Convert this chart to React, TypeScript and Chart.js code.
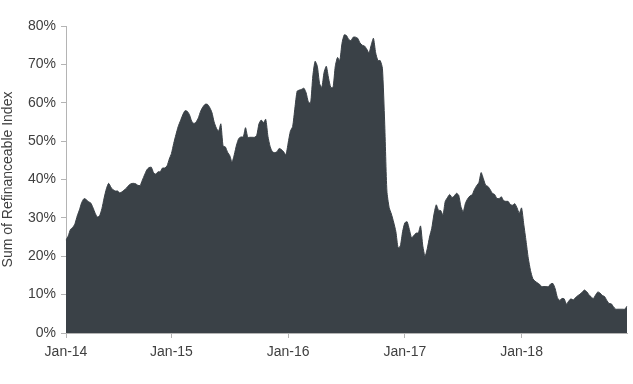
import { useEffect, useRef } from "react";
import { Chart, registerables } from "chart.js";

Chart.register(...registerables);

const yearLabels = ["Jan-14", "Jan-15", "Jan-16", "Jan-17", "Jan-18"];

const values2014 = [24.2, 25.3, 27, 27.5, 28.5, 30.5, 32.1, 34, 35, 34.8, 34.2, 33.9, 32.7, 31.2, 30.2, 30.6, 32.4, 35.2, 37.6, 39, 38, 37.3, 37, 37, 36.5, 36.8, 37.3, 37.8, 38.5, 38.9, 39, 38.9, 38.5, 38.4, 39.8, 41.2, 42.5, 43.1, 43.2, 41.8, 41.4, 42, 42, 43, 43, 43.5, 45.3];
const values2015 = [46.8, 49.4, 51.7, 53.8, 55.3, 56.8, 57.9, 57.8, 56.9, 55.2, 54.6, 55, 56.1, 57.8, 58.9, 59.6, 59.6, 58.8, 57.5, 55, 53.4, 52.6, 54.5, 48.7, 48.5, 47.1, 46.2, 44.5, 46.5, 49, 50.7, 51.1, 51.1, 53.5, 51, 51, 51, 51, 51.5, 54.5, 55.5, 54.8, 55.7, 51.2, 48.5, 47.2, 47, 47.2, 48.1, 47.8, 47.2, 46.4];
const values2016 = [49.5, 52.6, 53.8, 58.6, 63, 63.3, 63.5, 63.8, 62.6, 60.2, 59.9, 67, 70.8, 69.5, 65, 64, 67.9, 69.5, 66.4, 64, 64, 69.5, 71.8, 71, 75.5, 77.7, 77.5, 76.5, 76.2, 77.1, 77.1, 76.8, 75.6, 75, 74.8, 74, 73, 75, 76.8, 73, 71, 71, 69, 55, 37, 32.7, 31, 28.9, 26.4, 22.2, 22.7, 26.4];
const values2017 = [28.7, 29, 27, 24.8, 25.4, 26, 26.1, 27.9, 22.7, 20, 22, 25, 27.3, 31, 33.4, 32, 31.9, 30.7, 34.3, 35.3, 36.1, 35.3, 35.7, 36.4, 35.9, 32.9, 31.6, 33.8, 35, 35.7, 36, 37.4, 38.4, 39.2, 41.8, 40.2, 38.5, 38.2, 37.4, 36.4, 36.1, 35.1, 35, 35.5, 34.5, 34.3, 34.3, 33.5, 33.3, 33.7, 32.6, 31.2];
const values2018 = [32.6, 28.3, 24, 19.5, 16.3, 14.2, 13.5, 13.1, 12.7, 12.1, 12.1, 12.1, 12.1, 12.8, 12.9, 11.5, 9.2, 8.5, 9, 8.9, 7.5, 8.3, 8.9, 8.6, 9.2, 9.7, 10.1, 10.6, 11.2, 10.8, 10, 9.4, 9, 9.9, 10.7, 10.4, 9.8, 9.5, 8.5, 7.7, 7.6, 6.8, 6.2, 6.2, 6.2, 6.2, 6.2, 7];

const yearSeries = [values2014, values2015, values2016, values2017, values2018];
const yTicks = [0, 10, 20, 30, 40, 50, 60, 70, 80];

const labels: string[] = [];
const values: number[] = [];
yearSeries.forEach((arr, yi) => {
  arr.forEach((v, i) => {
    labels.push(i === 0 ? yearLabels[yi] : "");
    values.push(v);
  });
});

const FILL = "#3a4147";
const TEXT = "#404040";
const AXIS = "#b4b4b4";
const FONT = "'Liberation Sans', Arial, sans-serif";

export default function App() {
  const ref = useRef<HTMLCanvasElement | null>(null);
  useEffect(() => {
    if (!ref.current) return;
    const chart = new Chart(ref.current, {
      type: "line",
      data: {
        labels,
        datasets: [
          {
            data: values,
            fill: "origin",
            backgroundColor: FILL,
            borderColor: FILL,
            borderWidth: 1,
            pointRadius: 0,
            tension: 0.2,
          },
        ],
      },
      options: {
        animation: false,
        responsive: false,
        layout: { padding: { top: 26, right: 3, left: 0, bottom: 0 } },
        plugins: { legend: { display: false }, tooltip: { enabled: false } },
        scales: {
          x: {
            type: "category",
            grid: {
              drawOnChartArea: false,
              drawTicks: true,
              tickLength: 5,
              color: (ctx: any) => (labels[ctx.index] ? AXIS : "rgba(0,0,0,0)"),
            },
            border: { color: AXIS },
            ticks: {
              autoSkip: false,
              maxRotation: 0,
              minRotation: 0,
              padding: 6,
              color: TEXT,
              font: { family: FONT, size: 14 },
            },
            afterFit: (s: any) => {
              s.height = 51;
            },
          },
          y: {
            min: 0,
            max: 80,
            afterBuildTicks: (s: any) => {
              s.ticks = yTicks.map((v) => ({ value: v }));
            },
            ticks: {
              callback: (v: any) => v + "%",
              padding: 5,
              color: TEXT,
              font: { family: FONT, size: 14 },
            },
            grid: { drawOnChartArea: false, tickLength: 5, color: AXIS },
            border: { color: AXIS },
            title: {
              display: true,
              text: "Sum of Refinanceable Index",
              color: TEXT,
              font: { family: FONT, size: 14 },
              padding: { top: 0, bottom: 0 },
            },
            afterFit: (s: any) => {
              s.width = 66;
            },
          },
        },
      },
    });
    return () => chart.destroy();
  }, []);
  return (
    <div style={{ position: "fixed", left: 0, top: 0, width: 633, height: 384 }}>
      <canvas ref={ref} width={633} height={384} style={{ display: "block" }} />
    </div>
  );
}
